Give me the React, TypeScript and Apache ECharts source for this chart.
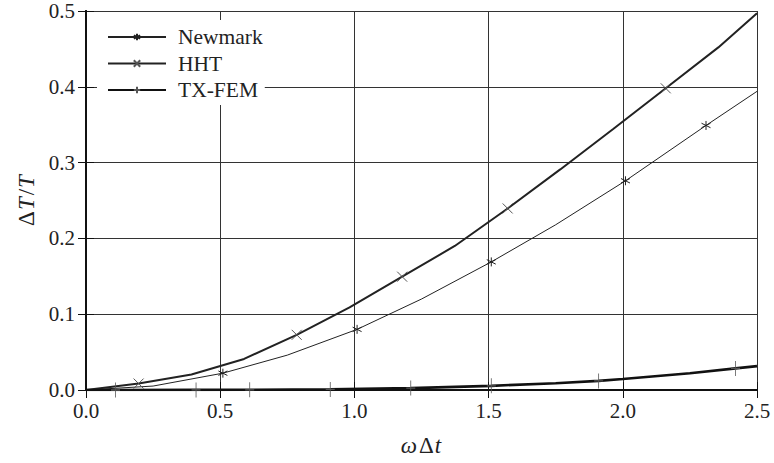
import React, { useEffect, useRef } from "react";
import * as echarts from "echarts";

const xTicks = [0, 0.5, 1.0, 1.5, 2.0, 2.5];
const yTicks = [0, 0.1, 0.2, 0.3, 0.4, 0.5];

const newmarkX = [0, 0.25, 0.51, 0.75, 1.01, 1.25, 1.51, 1.75, 2.01, 2.31, 2.5];
const newmarkY = [0, 0.0052, 0.0222, 0.046, 0.08, 0.12, 0.169, 0.218, 0.276, 0.349, 0.394];
const newmarkMarks = [0, 0, 1, 0, 1, 0, 1, 0, 1, 1, 0];

const hhtX = [0, 0.196, 0.393, 0.589, 0.785, 0.982, 1.178, 1.374, 1.571, 1.767, 1.963, 2.16, 2.356, 2.5];
const hhtY = [0, 0.0085, 0.0205, 0.041, 0.0728, 0.109, 0.1495, 0.19, 0.2395, 0.291, 0.344, 0.398, 0.452, 0.497];
const hhtMarks = [0, 1, 0, 0, 1, 0, 1, 0, 1, 0, 0, 1, 0, 0];

const txX = [0, 0.11, 0.41, 0.61, 0.91, 1.21, 1.51, 1.75, 1.91, 2.0, 2.25, 2.42, 2.5];
const txY = [0, 0, 0.0001, 0.0003, 0.0008, 0.0025, 0.0055, 0.009, 0.012, 0.0145, 0.022, 0.0285, 0.0315];
const txMarks = [0, 1, 1, 1, 1, 1, 1, 0, 1, 0, 0, 1, 0];

const seriesNames = ["Newmark", "HHT", "TX-FEM"];

const FONT = "'Liberation Serif', 'Times New Roman', Times, serif";

const STAR = "path://M5 0L5 10M0.67 2.5L9.33 7.5M0.67 7.5L9.33 2.5";
const CROSS = "path://M0 0L10 10M10 0L0 10";
const PLUS = "path://M5 0L5 14M1 7L9 7";

function buildData(xs: number[], ys: number[], marks: number[]) {
  return xs.map((x, i) =>
    marks[i] ? { value: [x, ys[i]] } : { value: [x, ys[i]], symbol: "none" }
  );
}

export default function App() {
  const ref = useRef<HTMLDivElement>(null);
  useEffect(() => {
    if (!ref.current) return;
    const chart = echarts.init(ref.current, null, { renderer: "svg" });
    const axisLine = { show: true, lineStyle: { color: "#111", width: 2 } };
    const tick = { show: true, inside: true, length: 8, lineStyle: { color: "#111", width: 1 } };
    const label = { fontFamily: FONT, fontSize: 21, color: "#222" };
    const nameRich = {
      i: { fontFamily: FONT, fontSize: 23, fontStyle: "italic", color: "#222", padding: [0, 1, 0, 0] },
      n: { fontFamily: FONT, fontSize: 23, color: "#222", padding: [0, 1, 0, 1] },
    };
    chart.setOption({
      animation: false,
      backgroundColor: "#fff",
      textStyle: { fontFamily: FONT },
      grid: { left: 86, right: 17, top: 11, bottom: 73, containLabel: false },
      legend: {
        orient: "vertical",
        left: 97,
        top: 20,
        itemWidth: 58,
        itemHeight: 8,
        itemGap: 4.5,
        padding: [6, 2, 4, 10],
        backgroundColor: "#fff",
        textStyle: { fontFamily: FONT, fontSize: 21.5, color: "#222", lineHeight: 21, padding: [0, 0, 0, 7] },
        data: seriesNames,
      },
      xAxis: [
        {
          type: "value",
          min: 0,
          max: 2.5,
          interval: 0.5,
          axisLine,
          axisTick: tick,
          axisLabel: { ...label, margin: 10, formatter: (v: number) => v.toFixed(1) },
          splitLine: { show: true, lineStyle: { color: "#333", width: 1 } },
          name: "{i|ω}{n|Δ}{i|t}",
          nameLocation: "middle",
          nameGap: 44,
          nameTextStyle: { rich: nameRich },
        },
        {
          type: "value",
          position: "top",
          min: 0,
          max: 2.5,
          interval: 0.5,
          axisLine,
          axisTick: tick,
          axisLabel: { show: false },
          splitLine: { show: false },
        },
      ],
      yAxis: [
        {
          type: "value",
          min: 0,
          max: 0.5,
          interval: 0.1,
          axisLine,
          axisTick: tick,
          axisLabel: { ...label, margin: 11, formatter: (v: number) => v.toFixed(1) },
          splitLine: { show: true, lineStyle: { color: "#333", width: 1 } },
          name: "{n|Δ}{i|T}{n|/}{i|T}",
          nameLocation: "middle",
          nameGap: 45,
          nameTextStyle: { rich: nameRich },
        },
        {
          type: "value",
          position: "right",
          min: 0,
          max: 0.5,
          interval: 0.1,
          axisLine,
          axisTick: tick,
          axisLabel: { show: false },
          splitLine: { show: false },
        },
      ],
      series: [
        {
          name: seriesNames[0],
          type: "line",
          data: buildData(newmarkX, newmarkY, newmarkMarks),
          symbol: STAR,
          symbolSize: 9,
          showSymbol: true,
          showAllSymbol: true,
          lineStyle: { color: "#222", width: 1 },
          itemStyle: { color: "transparent", borderColor: "#222", borderWidth: 1 },
          z: 3,
        },
        {
          name: seriesNames[1],
          type: "line",
          data: buildData(hhtX, hhtY, hhtMarks),
          symbol: CROSS,
          symbolSize: 10,
          showSymbol: true,
          showAllSymbol: true,
          lineStyle: { color: "#222", width: 2 },
          itemStyle: { color: "transparent", borderColor: "#555", borderWidth: 1 },
          z: 3,
        },
        {
          name: seriesNames[2],
          type: "line",
          data: buildData(txX, txY, txMarks),
          symbol: PLUS,
          symbolSize: [9, 15],
          showSymbol: true,
          showAllSymbol: true,
          lineStyle: { color: "#111", width: 2.6 },
          itemStyle: { color: "transparent", borderColor: "#555", borderWidth: 1 },
          z: 3,
        },
      ],
    });
    return () => chart.dispose();
  }, []);
  return (
    <div
      ref={ref}
      style={{ position: "fixed", left: 0, top: 0, width: 774, height: 463 }}
    />
  );
}
